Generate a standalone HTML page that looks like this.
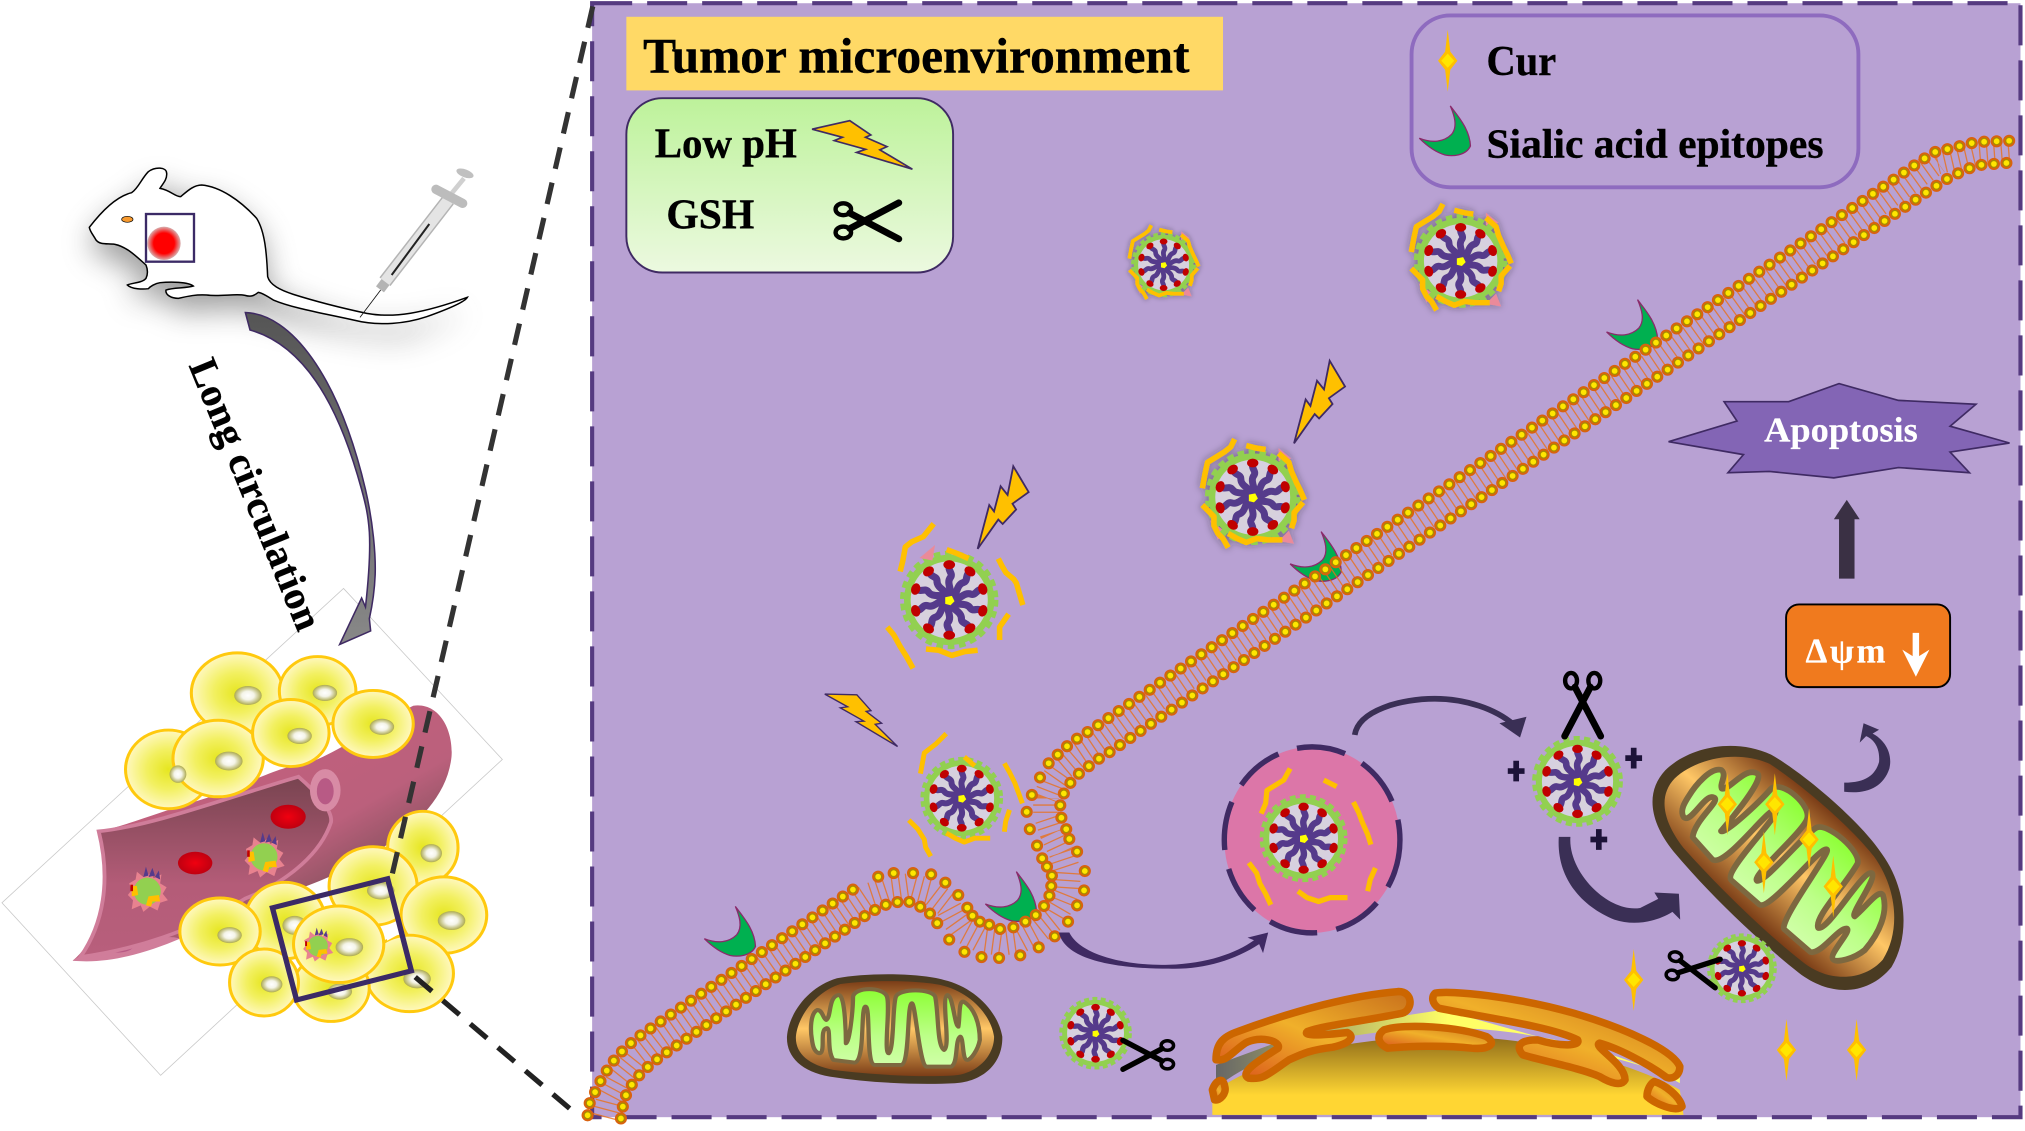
<!DOCTYPE html>
<html><head><meta charset="utf-8"><title>Tumor microenvironment</title>
<style>html,body{margin:0;padding:0;background:#fff}svg{display:block}text{font-family:"Liberation Serif",serif;font-weight:bold;stroke:#000;stroke-width:.3}text.w{stroke:#fff;stroke-width:.15}</style></head>
<body>
<svg xmlns="http://www.w3.org/2000/svg" width="2025" height="1131" viewBox="0 0 1568 875.7" preserveAspectRatio="none">
<defs>
<linearGradient id="gbox" x1="0" y1="0" x2="0" y2="1"><stop offset="0" stop-color="#bdf29a"/><stop offset="1" stop-color="#ecf9e0"/></linearGradient>
<radialGradient id="red"><stop offset="0" stop-color="#ff0000"/><stop offset=".62" stop-color="#ff0000"/><stop offset="1" stop-color="#d8b0b0"/></radialGradient>
<radialGradient id="rbc"><stop offset="0" stop-color="#f00010"/><stop offset="1" stop-color="#c00010"/></radialGradient>
<radialGradient id="cell"><stop offset="0" stop-color="#e6e620"/><stop offset=".5" stop-color="#f2f060"/><stop offset="1" stop-color="#fff8c0"/></radialGradient>
<radialGradient id="nuc"><stop offset="0" stop-color="#fff"/><stop offset=".45" stop-color="#f4f4e8"/><stop offset="1" stop-color="#adaa50"/></radialGradient>
<radialGradient id="core"><stop offset="0" stop-color="#dcdab0"/><stop offset=".45" stop-color="#d8d3d8"/><stop offset="1" stop-color="#d6cfe2"/></radialGradient>
<linearGradient id="ves" x1=".2" y1=".2" x2=".75" y2=".85"><stop offset="0" stop-color="#c4607e"/><stop offset=".6" stop-color="#bb607c"/><stop offset="1" stop-color="#6e4a50"/></linearGradient>
<linearGradient id="lum" x1="0" y1="0" x2="0" y2="1"><stop offset="0" stop-color="#784450"/><stop offset=".6" stop-color="#b45c78"/><stop offset="1" stop-color="#b85f7c"/></linearGradient>
<linearGradient id="mbody" x1="0" y1="0" x2="0" y2="1"><stop offset="0" stop-color="#7b3d17"/><stop offset=".5" stop-color="#ffc766"/><stop offset="1" stop-color="#7b3d17"/></linearGradient>
<linearGradient id="mgreen" x1="0" y1="0" x2="0" y2="1"><stop offset="0" stop-color="#8cff33"/><stop offset=".6" stop-color="#bcff88"/><stop offset="1" stop-color="#d0ffa8"/></linearGradient>
<linearGradient id="dome" x1="0" y1="0" x2="0" y2="1"><stop offset="0" stop-color="#8f6c1a"/><stop offset=".75" stop-color="#ffd633"/><stop offset="1" stop-color="#ffd633"/></linearGradient>
<linearGradient id="erg" x1="0" y1="1" x2="1" y2="0"><stop offset="0" stop-color="#d8501a"/><stop offset=".5" stop-color="#f0b02a"/><stop offset="1" stop-color="#c8701c"/></linearGradient>
<linearGradient id="erl" x1="0" y1="0" x2="1" y2="0"><stop offset="0" stop-color="#666"/><stop offset=".5" stop-color="#ffff66"/><stop offset="1" stop-color="#ffff66"/></linearGradient>
<linearGradient id="shaft" x1="0" y1="0" x2="0" y2="1"><stop offset="0" stop-color="#555"/><stop offset="1" stop-color="#888"/></linearGradient>
<filter id="blur" x="-30%" y="-60%" width="160%" height="220%"><feGaussianBlur stdDeviation="45"/></filter>
<filter id="sh" x="-30%" y="-30%" width="160%" height="160%"><feDropShadow dx="0" dy="0" stdDeviation="3" flood-color="#222" flood-opacity=".45"/></filter>

<g id="arm"><path d="M0,0 C4,-6 -3,-12 1,-17 C3,-20 -1,-22 0,-25" stroke="#553a8b" stroke-width="5.4" fill="none"/><ellipse cx="0" cy="-26.5" rx="4.4" ry="3.4" fill="#c00000"/></g>
<g id="np"><circle r="34" fill="#92d050"/><circle r="35" fill="none" stroke="#92d050" stroke-width="4" stroke-dasharray="5 3.5"/><circle r="29" fill="url(#core)"/>
<use href="#arm"/><use href="#arm" transform="rotate(36)"/><use href="#arm" transform="rotate(72)"/><use href="#arm" transform="rotate(108)"/><use href="#arm" transform="rotate(144)"/><use href="#arm" transform="rotate(180)"/><use href="#arm" transform="rotate(216)"/><use href="#arm" transform="rotate(252)"/><use href="#arm" transform="rotate(288)"/><use href="#arm" transform="rotate(324)"/>
<polygon points="-3,-2 2,-3 4,1 1,4 -3,3" fill="#ffff00"/></g>
<g id="npo"><polygon points="-33,18 -27,33 -22,26" fill="#ea8a9a"/><polygon points="20,-38 30,-30 20,-28" fill="#ea8a9a"/><polygon points="20,34 28,26 32,36" fill="#ea8a9a"/>
<use href="#np"/>
<g fill="none" stroke="#ffc000" stroke-width="4.3" stroke-linejoin="round">
<path d="M-14,-45 L-17,-39 L-22,-35 L-35,-27 L-37,-18 L-39,-7"/><path d="M-5,-40 L3,-38 L10,-37"/><path d="M20,-34 L28,-27 L30,-20 L34,-11 L37,-5 L40,2"/><path d="M39,4 L32,12 L32,18 L30,24"/><path d="M-39,6 L-30,15 L-30,22 L-27,28 L-23,32 L-19,39"/><path d="M-19,28 L-12,32 L-5,35 L3,32 L12,33 L23,33"/></g></g>
<g id="sc"><ellipse cx="-9" cy="-13" rx="4.6" ry="6" fill="none" stroke="#000" stroke-width="3.4"/><ellipse cx="9" cy="-13" rx="4.6" ry="6" fill="none" stroke="#000" stroke-width="3.4"/>
<path d="M-6,-8 L14,30" stroke="#000" stroke-width="5.2" stroke-linecap="round"/><path d="M6,-8 L-14,30" stroke="#000" stroke-width="5.2" stroke-linecap="round"/></g>
<path id="cr" d="M-4,-26 C2,-18 11,-8 11.6,5 C8,13 -3,13 -8,12 C-15,10 -22,5 -28,-1 C-18,3 -9,2 -3,-4 C2,-10 -1,-19 -4,-26 Z" fill="#00b050" stroke="#8a2a6a" stroke-width="1"/>
<g id="star"><polygon points="0,-24 2,-7 7.5,0 2,7 0,24 -2,7 -7.5,0 -2,-7" fill="#ffc000"/><polygon points="0,-5.5 5,0 0,5.5 -5,0" fill="#ffe600"/></g>
<g id="bolt"><polygon points="0,0 9,-34 12.7,-29 17.8,-48.5 23.2,-41.8 27.6,-64 39.5,-44 27,-35 29.8,-30.5 19.4,-19.3 16,-22.7" fill="#ffc000" stroke="#3f2a63" stroke-width="1.4"/></g>
<g id="boltb"><polygon points="628.8,100 658,93.4 674.3,104.5 670.2,106.3 686.8,113.5 681.3,116 706.5,131 663.3,118 670.2,115.6 646,108.9 652.3,106.3" fill="#ffc000" stroke="#3f2a63" stroke-width="1.3"/></g>
<g id="plus"><polygon points="-2.2,-8 2.2,-8 2.2,-2.2 6.5,-2.2 6.5,2.2 2.2,2.2 2.2,8 -2.2,8 -2.2,2.2 -6.5,2.2 -6.5,-2.2 -2.2,-2.2" fill="#1c1238"/></g>
<g id="mito"><path d="M580,590 C585,520 640,440 720,415 C800,398 950,398 1020,420 C1100,440 1170,510 1183,590 C1185,670 1130,725 1050,730 C950,735 820,730 700,710 C620,695 578,650 580,590 Z" fill="#4a3b22"/>
<path d="M605,590 C610,530 660,455 730,432 C810,420 940,420 1010,435 C1090,455 1150,520 1160,590 C1160,650 1110,705 1040,707 C950,712 820,705 710,690 C640,675 603,640 605,590 Z" fill="url(#mbody)"/>
<path d="M650,600 C645,570 645,520 665,510 C680,510 680,535 690,540 C705,530 695,470 725,465 C745,465 745,610 745,610 C755,610 765,510 765,470 C770,440 850,440 860,470 C870,500 850,640 865,640 C880,630 875,500 885,470 C895,445 985,445 995,470 C1005,520 1000,620 1020,630 C1040,620 1010,470 1030,465 C1045,470 1050,560 1060,560 C1065,530 1060,480 1075,485 C1105,505 1120,550 1120,600 C1115,630 1095,660 1085,660 C1070,660 1075,590 1065,590 C1050,600 1060,670 1040,680 L970,680 C950,670 940,490 930,490 C915,490 925,670 900,675 L825,675 C800,670 815,500 800,500 C785,500 800,660 770,668 L710,660 C690,630 705,560 690,565 C670,570 690,640 670,640 C655,635 652,615 650,600 Z" fill="url(#mgreen)" stroke="#7d6840" stroke-width="12" stroke-linejoin="round"/></g>
<g id="blob"><polygon points="-14,-6 -9,-9 -8,-15 -3,-11 3,-14 5,-10 11,-13 10,-6 15,-3 12,2 16,7 10,9 8,15 2,12 -3,16 -5,11 -12,14 -11,7 -15,3 -12,-1" fill="#e8828f"/>
<circle r="10.5" fill="#92d050"/><polygon points="-3,-11 -1,-19 1,-12" fill="#553a8b"/><polygon points="1,-11 4,-18 6,-12" fill="#553a8b"/><polygon points="6,-11 9,-16 10,-9" fill="#553a8b"/>
<path d="M-12,-4 L-8,-4 L-7,3 L-12,4 Z" fill="#ffc000"/><path d="M-13,-5 L-11,-5 L-11,0 L-13,0 Z" fill="#c00000"/><path d="M-1,11 L1,4 L9,3 L10,8 L4,8 L3,12 Z" fill="#ffc000"/></g>
</defs>

<rect width="1568" height="875.7" fill="#fff"/>
<!-- main frame -->
<rect x="458.5" y="2.5" width="1106" height="862.5" fill="#b8a1d3" stroke="#553a80" stroke-width="3.2" stroke-dasharray="31 11.6"/>

<!-- faint sheet -->
<polygon points="266,455.6 389,588 124.4,832.6 1.5,699" fill="#fff" stroke="#c8c8c8" stroke-width=".6"/>

<!-- mouse -->
<g transform="translate(46.46,116.15) scale(.2581)">
<path transform="translate(0,40)" d="M88,232 C120,190 165,140 215,128 C245,85 320,50 320,70 C340,130 400,105 425,105 C480,110 540,150 590,205 C615,245 620,310 623,380 C700,433 850,475 920,490 C1000,505 1090,490 1222,442 C1170,475 1100,500 1040,520 C960,530 880,510 700,475 L555,436 L355,445 L300,398 L202,405 L258,345 C230,320 140,280 108,270 Z" fill="#777" opacity=".7" filter="url(#blur)"/>
<path d="M88,232 C120,190 165,140 215,128 C235,115 245,85 265,65 C285,50 320,50 320,70 C322,90 305,105 300,115 C330,120 345,140 362,140 C380,125 400,105 425,105 C480,110 540,150 590,205 C615,245 620,310 623,380 C630,405 660,420 700,433 C770,455 850,475 920,490 C1000,505 1090,490 1222,442 C1215,455 1170,475 1100,500 C1040,520 960,530 880,510 C790,490 700,475 640,450 C620,437 605,428 595,427 C585,435 575,442 555,436 C530,430 480,440 440,435 C410,433 385,438 355,445 C335,445 315,435 318,420 C340,412 380,415 400,408 C385,395 330,395 300,398 C285,400 270,410 265,416 C250,418 215,418 202,405 C215,398 245,400 258,385 C265,370 262,355 258,345 C230,320 200,290 165,283 C140,280 120,285 108,270 C100,255 90,245 88,232 Z" fill="#fff" stroke="#000" stroke-width="4.5"/>
<ellipse cx="202" cy="208" rx="17" ry="9" fill="#f79a2f" stroke="#000" stroke-width="2"/>
<circle cx="312" cy="280" r="50" fill="url(#red)"/>
<rect x="258" y="192" width="144" height="143" fill="none" stroke="#3b2a66" stroke-width="7"/>
<line x1="900" y1="502" x2="962" y2="420" stroke="#111" stroke-width="2.5"/>
<line x1="960" y1="418" x2="985" y2="385" stroke="#b4b4b4" stroke-width="30"/>
<line x1="975" y1="395" x2="1165" y2="150" stroke="#b4b4b4" stroke-width="42"/>
<line x1="975" y1="395" x2="1165" y2="150" stroke="#e4e4e4" stroke-width="33"/>
<line x1="995" y1="375" x2="1108" y2="222" stroke="#222" stroke-width="6"/>
<line x1="1175" y1="130" x2="1212" y2="85" stroke="#d0d0d0" stroke-width="14"/>
<line x1="1128" y1="118" x2="1208" y2="160" stroke="#bcbcbc" stroke-width="28" stroke-linecap="round"/>
<ellipse cx="1215" cy="70" rx="27" ry="12" fill="#c0c0c0" transform="rotate(20 1215 70)"/>
</g>

<!-- curved arrow -->
<path d="M190,242 C225,243 262,290 283,379 C289,405 291,430 290.5,445 C290,458 288,470 286,479 L287,488.5 L263,499 L280,463 L283,470 C285,452 287,430 286,412 C285,398 283,390 280,379 C268,335 245,270 193.6,255.5 Z" fill="url(#shaft)" stroke="#3f2a63" stroke-width="1.2"/>
<text x="146" y="283" font-size="31" textLength="224" lengthAdjust="spacing" transform="rotate(67.7 146 283)">Long circulation</text>

<!-- vessel and cells -->
<g transform="translate(0,433.6) scale(.2963,.282)">
<path d="M190,1100 C250,1050 270,950 280,880 C285,830 270,790 258,745 C330,730 420,690 520,660 C640,620 740,560 800,560 C900,520 1000,440 1080,400 C1150,390 1185,470 1180,540 C1170,640 1100,720 1000,790 C900,860 800,900 650,950 C500,1040 300,1110 190,1100 Z" fill="url(#ves)"/>
<path d="M190,1100 C230,1070 300,1040 350,1035 C420,1040 450,1030 470,1040 C380,1080 280,1110 190,1100 Z" fill="#d07d9a"/>
<ellipse cx="305" cy="1058" rx="45" ry="20" fill="#b85a85"/>
<path d="M258,745 C400,730 600,650 780,595 C830,640 870,690 865,720 C840,800 760,880 640,930 C500,1020 350,1070 210,1090 C270,1000 290,880 258,745 Z" fill="url(#lum)" stroke="#d07d9a" stroke-width="10"/>
<ellipse cx="850" cy="632" rx="40" ry="58" fill="#d88ba5"/><ellipse cx="850" cy="635" rx="22" ry="36" fill="#b85a85"/>
<ellipse cx="753" cy="705" rx="46" ry="33" fill="url(#rbc)"/><ellipse cx="510" cy="832" rx="45" ry="31" fill="url(#rbc)"/>
<g stroke="#ffc90e" stroke-width="8" fill="url(#cell)">
<ellipse cx="620" cy="365" rx="120" ry="110"/><ellipse cx="830" cy="360" rx="100" ry="95"/><ellipse cx="440" cy="575" rx="112" ry="108"/><ellipse cx="570" cy="545" rx="118" ry="105"/><ellipse cx="760" cy="475" rx="100" ry="92"/><ellipse cx="975" cy="450" rx="105" ry="92"/>
<ellipse cx="1105" cy="790" rx="92" ry="100"/><ellipse cx="975" cy="895" rx="115" ry="108"/><ellipse cx="1160" cy="975" rx="112" ry="105"/><ellipse cx="745" cy="990" rx="105" ry="105"/><ellipse cx="575" cy="1020" rx="105" ry="92"/><ellipse cx="1070" cy="1135" rx="115" ry="105"/><ellipse cx="865" cy="1175" rx="100" ry="92"/><ellipse cx="690" cy="1160" rx="90" ry="92"/>
</g>
<g fill="url(#nuc)">
<ellipse cx="648" cy="372" rx="36" ry="26"/><ellipse cx="849" cy="365" rx="32" ry="22"/><ellipse cx="465" cy="588" rx="22" ry="24"/><ellipse cx="598" cy="552" rx="36" ry="26"/><ellipse cx="783" cy="483" rx="32" ry="22"/><ellipse cx="998" cy="458" rx="32" ry="22"/>
<ellipse cx="1127" cy="805" rx="28" ry="25"/><ellipse cx="995" cy="908" rx="36" ry="24"/><ellipse cx="1180" cy="990" rx="36" ry="26"/><ellipse cx="770" cy="1003" rx="32" ry="26"/><ellipse cx="600" cy="1030" rx="32" ry="22"/><ellipse cx="1090" cy="1150" rx="36" ry="26"/><ellipse cx="888" cy="1185" rx="32" ry="22"/><ellipse cx="710" cy="1165" rx="28" ry="22"/>
</g>
<polygon points="1002,1012 1028,995 1038,1030 1012,1045" fill="#fff"/>
<ellipse cx="885" cy="1055" rx="118" ry="105" fill="url(#cell)" stroke="#ffc90e" stroke-width="8"/>
<ellipse cx="913" cy="1063" rx="36" ry="25" fill="url(#nuc)"/>
<polygon points="712,955 1013,875 1075,1128 775,1208" fill="none" stroke="#3b2a66" stroke-width="14" stroke-linejoin="miter"/>
</g>
<use href="#blob" transform="translate(114,690)"/>
<use href="#blob" transform="translate(204.4,663.4)"/>
<use href="#blob" transform="translate(246,732.5) scale(.75)"/>

<!-- zoom dashed lines -->
<line x1="459" y1="5" x2="303" y2="680" stroke="#333" stroke-width="4" stroke-dasharray="17 11"/>
<line x1="321.5" y1="756.5" x2="449" y2="865" stroke="#222" stroke-width="4" stroke-dasharray="17 11"/>

<!-- header boxes -->
<rect x="485" y="13" width="462" height="57" fill="#ffd966"/>
<text x="498" y="56" font-size="38.5" textLength="423" lengthAdjust="spacingAndGlyphs">Tumor microenvironment</text>
<rect x="485" y="76" width="253" height="135" rx="28" fill="url(#gbox)" stroke="#3f2a63" stroke-width="1.5"/>
<text x="507" y="122" font-size="33" textLength="110" lengthAdjust="spacingAndGlyphs">Low pH</text>
<text x="516" y="177" font-size="33" textLength="68" lengthAdjust="spacingAndGlyphs">GSH</text>
<use href="#boltb"/>
<use href="#sc" transform="translate(666,171) rotate(-90)"/>

<rect x="1093" y="12" width="346" height="133" rx="30" fill="none" stroke="#8e6bbf" stroke-width="3"/>
<use href="#star" transform="translate(1121,47)"/>
<use href="#cr" transform="translate(1127,108)"/>
<text x="1151" y="58" font-size="33" textLength="54" lengthAdjust="spacingAndGlyphs">Cur</text>
<text x="1151" y="122" font-size="32" textLength="261" lengthAdjust="spacingAndGlyphs">Sialic acid epitopes</text>

<!-- crescents under membrane -->
<use href="#cr" transform="translate(573.4,727.8)"/>
<use href="#cr" transform="translate(791,700.9)"/>
<use href="#cr" transform="translate(1272,258)"/>
<use href="#cr" transform="translate(1027,437.6)"/>

<!-- membrane tails -->
<path d="M468,865 L472,850 L480,835 L492,820 L510,806 L540,785 L600,743 L660,702 L672,694 L690,688 L705,686 L720,690 L733,700 L740,713 L745,720 L760,728 L775,730 L790,728 L805,720 L815,712 L822,700 L826,690 L827,675 L822,660 L815,645 L810,630 L810,618 L815,605 L822,595 L835,584 L850,574 L900,538 L1000,470 L1290,275 L1500,125 L1530,118 L1556,116" fill="none" stroke="#e8711a" stroke-width="20" stroke-dasharray="1 4.6" opacity=".8"/>
<!-- beads -->
<g fill="none" stroke-linecap="round">
<g stroke="#d9620f" stroke-width="9.4">
<path stroke-dasharray="0 9.5" d="M455,863.5 L456.7,853.7 L461.4,844.4 L466,835 L471.7,826 L478,817.6 L485.8,810 L494,803 L502,797.5 L666,685"/>
<path stroke-dasharray="0 9.3" d="M480.8,866 L482,859 L483,851 L487,844 L490.5,837.5 L495.5,832 L501,826.6 L507,821.5 L514.8,815.8 L670,709 L678.5,704 L687,700 L695,698.4 L703.4,698 L711,701.2 L717.8,704.8 L722.5,710 L727,716.7"/>
<path stroke-dasharray="0 9.7" d="M812,591 L822.8,580.7 L830.7,574 L846.6,564 L1497,118 L1510,115 L1530,110 L1556,109"/>
<path stroke-dasharray="0 9.7" d="M825.6,642 L822.3,635.6 L821,628.4 L821,620.7 L824.5,612.7 L829.6,605 L835.8,598.7 L843.7,592.8 L851,587.4 L859,582.5 L1490,150 L1510,137 L1530,128 L1556,126"/>
<path id="fan" d="M680,678.8 h0 M692,676 h0 M707,676 h0 M721,677 h0 M732,683.4 h0 M742,693 h0 M749,702.8 h0 M753,709 h0 M758.7,713.6 h0 M766,716 h0 M774.4,719.3 h0 M784.7,718 h0 M794,713.6 h0 M802,708.5 h0 M808.4,701.5 h0 M812.6,693.5 h0 M814,686 h0 M814.5,678 h0 M810.7,671 h0 M807,664.6 h0 M803,654.7 h0 M797.4,642 h0 M795,628.6 h0 M799,615.5 h0 M805.3,602 h0 M735,727.5 h0 M746.8,737 h0 M760,741 h0 M773.6,741.7 h0 M790,739.7 h0 M804.3,733.5 h0 M816.7,725 h0 M827,713.6 h0 M834,701 h0 M839.4,689.4 h0 M840,674.4 h0 M834,659.4 h0 M828,649.6 h0"/>
</g>
<g stroke="#a88c00" stroke-width="6.4">
<path stroke-dasharray="0 9.5" d="M455,863.5 L456.7,853.7 L461.4,844.4 L466,835 L471.7,826 L478,817.6 L485.8,810 L494,803 L502,797.5 L666,685"/>
<path stroke-dasharray="0 9.3" d="M480.8,866 L482,859 L483,851 L487,844 L490.5,837.5 L495.5,832 L501,826.6 L507,821.5 L514.8,815.8 L670,709 L678.5,704 L687,700 L695,698.4 L703.4,698 L711,701.2 L717.8,704.8 L722.5,710 L727,716.7"/>
<path stroke-dasharray="0 9.7" d="M812,591 L822.8,580.7 L830.7,574 L846.6,564 L1497,118 L1510,115 L1530,110 L1556,109"/>
<path stroke-dasharray="0 9.7" d="M825.6,642 L822.3,635.6 L821,628.4 L821,620.7 L824.5,612.7 L829.6,605 L835.8,598.7 L843.7,592.8 L851,587.4 L859,582.5 L1490,150 L1510,137 L1530,128 L1556,126"/>
<use href="#fan"/>
</g>
<g stroke="#ffe600" stroke-width="4.4">
<path stroke-dasharray="0 9.5" d="M455,863.5 L456.7,853.7 L461.4,844.4 L466,835 L471.7,826 L478,817.6 L485.8,810 L494,803 L502,797.5 L666,685"/>
<path stroke-dasharray="0 9.3" d="M480.8,866 L482,859 L483,851 L487,844 L490.5,837.5 L495.5,832 L501,826.6 L507,821.5 L514.8,815.8 L670,709 L678.5,704 L687,700 L695,698.4 L703.4,698 L711,701.2 L717.8,704.8 L722.5,710 L727,716.7"/>
<path stroke-dasharray="0 9.7" d="M812,591 L822.8,580.7 L830.7,574 L846.6,564 L1497,118 L1510,115 L1530,110 L1556,109"/>
<path stroke-dasharray="0 9.7" d="M825.6,642 L822.3,635.6 L821,628.4 L821,620.7 L824.5,612.7 L829.6,605 L835.8,598.7 L843.7,592.8 L851,587.4 L859,582.5 L1490,150 L1510,137 L1530,128 L1556,126"/>
<use href="#fan"/>
</g>
</g>

<!-- nanoparticles -->
<use href="#npo" transform="translate(901,205) scale(.68)" filter="url(#sh)"/>
<use href="#npo" transform="translate(1131,202) scale(.98)" filter="url(#sh)"/>
<use href="#npo" transform="translate(970,385)" filter="url(#sh)"/>

<use href="#np" transform="translate(735,464.5) scale(1.03)"/>
<g fill="none" stroke="#ffc000" stroke-width="4.3" stroke-linejoin="round" transform="translate(735,464.5)">
<path d="M-12,-59 L-20,-49 L-29,-45 L-34,-41 L-36,-30 L-38,-22"/><path d="M-2,-39 L6,-36 L15,-32"/><path d="M38,-32 L41,-26 L44,-21 L50,-16 L52,-13 L57,4"/><path d="M46,11 L39,21 L39,31"/><path d="M-48,21 L-43,27 L-38,36 L-33,44 L-28,53"/><path d="M-18,38 L-8,39 L2,43 L12,40 L22,39"/></g>
<polygon points="712,432 724,422 722,434" fill="#ea8a9a"/>
<use href="#np" transform="translate(744.7,618) scale(.865)"/>
<g fill="none" stroke="#ffc000" stroke-width="3.8" stroke-linejoin="round" transform="translate(744.7,618)">
<path d="M-12,-50 L-20,-42 L-29,-35 L-32,-19"/><path d="M2,-32 L10,-25"/><path d="M33,-27 L37,-20 L41,-12 L44,-4 L47,4"/><path d="M37,9 L34,18 L33,26"/><path d="M-41,17 L-34,24 L-29,32 L-28,38 L-24,45"/><path d="M-12,27 L-5,31 L2,34 L10,31 L22,31"/></g>

<!-- endocytosed vesicle -->
<ellipse cx="1016" cy="650.3" rx="68" ry="72" fill="#dc76a8" stroke="#3f2a63" stroke-width="4.2" stroke-dasharray="38 15"/>
<use href="#np" transform="translate(1009.4,649) scale(.92)"/>
<g fill="none" stroke="#ffc000" stroke-width="4" stroke-linejoin="round">
<path d="M999,595 L994,604 L981,612 L980,622 L976.6,630"/><path d="M1025,604 L1035,609"/><path d="M1048,621 L1052,629 L1055,637 L1059,646 L1061.5,654"/><path d="M1065,672 L1061,681 L1059,690"/><path d="M967,668 L973,676 L975.5,684 L980,692 L984,700.6"/><path d="M1005,690 L1012,695 L1021,698 L1030,695 L1043.4,695"/></g>

<use href="#np" transform="translate(1221.5,605) scale(.95)"/>
<use href="#sc" transform="translate(1225.5,540)"/>
<use href="#plus" transform="translate(1174,597)"/><use href="#plus" transform="translate(1265,587)"/><use href="#plus" transform="translate(1238,650)"/>

<!-- mitochondria -->
<g transform="translate(449,650.4) scale(.2765,.258)"><use href="#mito"/></g>
<g transform="translate(1382,666) rotate(41) scale(.385,.36) translate(-880,-567)"><use href="#mito"/></g>
<use href="#star" transform="translate(1337.5,622.7)"/><use href="#star" transform="translate(1374.3,622.7)"/><use href="#star" transform="translate(1400.8,650)"/><use href="#star" transform="translate(1365.8,667.6)"/><use href="#star" transform="translate(1419.5,686.4)"/>
<use href="#star" transform="translate(1265,758.7)"/><use href="#star" transform="translate(1383.3,813)"/><use href="#star" transform="translate(1437.6,813)"/>

<use href="#np" transform="translate(848.3,800) scale(.76)"/>
<use href="#sc" transform="translate(893.5,816.7) rotate(90) scale(.8)"/>
<use href="#np" transform="translate(1348.8,749.7) scale(.73)"/>
<use href="#sc" transform="translate(1306.4,749.6) rotate(-80) scale(.8)"/>

<!-- nucleus / ER -->
<g transform="translate(681.4,511) scale(.5656,.258)">
<path d="M455,1365 L455,1300 C520,1190 650,1130 780,1130 C900,1130 1030,1210 1095,1290 L1100,1365 Z" fill="url(#dome)"/>
<path d="M460,1215 L460,1285 C520,1170 650,1105 780,1105 C900,1105 1030,1190 1095,1270 L1095,1250 L770,1050 L590,1110 Z" fill="url(#erl)"/>
<g fill="url(#erg)" stroke="#cc6600" stroke-width="7.5" stroke-linejoin="round" style="vector-effect:non-scaling-stroke">
<path style="vector-effect:non-scaling-stroke" d="M460,1200 C460,1150 470,1130 490,1115 C570,1050 650,1005 710,995 C730,995 730,1050 715,1060 C660,1085 610,1095 585,1115 C580,1125 590,1130 640,1118 C650,1130 645,1150 620,1162 C590,1170 580,1180 560,1200 C530,1245 525,1260 505,1255 C490,1240 520,1200 545,1165 C550,1145 520,1125 500,1150 C480,1180 475,1205 460,1200 Z"/>
<path style="vector-effect:non-scaling-stroke" d="M690,1110 C720,1090 790,1100 830,1130 C845,1150 835,1170 810,1165 C770,1155 720,1160 695,1165 C680,1150 680,1125 690,1110 Z"/>
<path style="vector-effect:non-scaling-stroke" d="M760,1000 C780,990 870,1010 950,1060 C1020,1105 1085,1170 1095,1220 C1095,1255 1080,1260 1075,1250 C1050,1210 1010,1165 985,1150 C975,1160 1020,1210 1020,1260 C1015,1280 1000,1270 985,1250 C960,1225 900,1200 880,1185 C870,1160 875,1140 900,1140 C930,1160 960,1160 955,1140 C920,1100 820,1070 765,1045 C755,1030 755,1010 760,1000 Z"/>
<path style="vector-effect:non-scaling-stroke" d="M455,1290 C460,1260 470,1250 472,1280 C475,1300 465,1325 458,1320 Z"/>
<path style="vector-effect:non-scaling-stroke" d="M1060,1265 C1075,1275 1095,1310 1098,1340 C1090,1360 1060,1330 1050,1310 C1050,1290 1055,1270 1060,1265 Z"/>
</g></g>

<!-- bolts -->
<use href="#bolt" transform="translate(1002,343.3)"/>
<use href="#bolt" transform="translate(757,425)"/>
<use href="#boltb" transform="translate(695,578) rotate(14) scale(.83) translate(-706.5,-131)"/>

<!-- arrows -->
<path d="M820,722 L828,722 C838,742 880,748 905,747 C935,746 957,738 971,728 L966,726 L982,722 L978,738 L975,731 C955,744 930,751 905,750 C870,750 825,745 820,722 Z" fill="#3f2a63"/>
<path d="M1049,569 C1052,550 1085,541 1111,541 C1135,541 1158,549 1172,561" fill="none" stroke="#3a2f55" stroke-width="4.4"/>
<polygon points="1177,571 1161,560 1182,555" fill="#3a2f55"/>
<path d="M1207,648 L1216,648 C1214,675 1245,707 1270,703 L1284,696 L1281,691 L1300,692 L1301,712 L1295,706 C1282,714 1265,717 1250,712 C1225,702 1205,680 1207,648 Z" fill="#3a2f55"/>
<path d="M1428,606 C1445,606 1452,600 1455,590 C1456,578 1450,572 1445,570 L1440,575 L1443,560 L1455,565 L1450,568 C1458,572 1466,582 1463,595 C1458,610 1445,615 1428,613 Z" fill="#3a2f55"/>

<!-- apoptosis -->
<polygon points="1292,342 1345,326 1335,311 1385,311 1424,297 1470,310 1530,313 1510,330 1556,343 1510,350 1525,366 1470,362 1420,370 1370,365 1338,366 1350,352" fill="#8365b5" stroke="#3f2a63" stroke-width="1.3"/>
<text class="w" x="1366" y="342" font-size="27" fill="#fff" textLength="119" lengthAdjust="spacingAndGlyphs">Apoptosis</text>
<polygon points="1430,387 1440,402 1436,402 1436,448 1424,448 1424,402 1420,402" fill="#3a3044"/>
<rect x="1383" y="468" width="127" height="64" rx="10" fill="#f07a1e" stroke="#000" stroke-width="1.5"/>
<text class="w" x="1398" y="513" font-size="27" fill="#fff" textLength="62" lengthAdjust="spacing">Δψm</text>
<polygon points="1481,490 1486,490 1486,508 1494,503 1483.5,524 1473,503 1481,508" fill="#fff"/>
</svg>
</body></html>
